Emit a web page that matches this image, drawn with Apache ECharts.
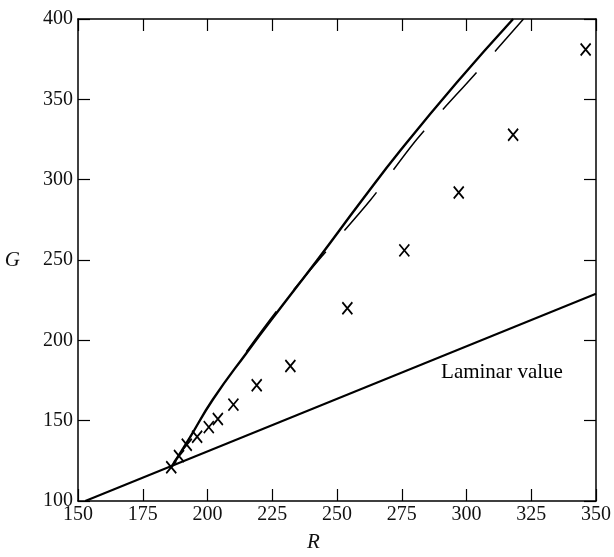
<!DOCTYPE html>
<html>
<head>
<meta charset="utf-8">
<script src="https://cdn.jsdelivr.net/npm/echarts@6/dist/echarts.min.js"></script>
<style>html,body{margin:0;padding:0;background:#fff;}#c{width:614px;height:557px;}</style>
</head>
<body>
<div id="c"></div>
<script>
// Measured points (crosses)
var pointR = [186, 189, 192, 196, 200.5, 204, 210, 219, 232, 254, 276, 297, 318, 346];
var pointG = [121, 128, 135, 140, 146, 151, 160, 172, 184, 220, 256, 292, 328, 381];
// Solid curve
var solidR = [186, 193, 202, 215, 230, 242.4, 259.7, 274.6, 296, 318];
var solidG = [121, 139, 163, 192, 224, 250, 287.3, 318.4, 360, 400];
// Dashed curve
var dashR = [215, 228, 244, 263, 281, 304, 322];
var dashG = [193, 221, 252, 287.5, 325.5, 367, 400];
// Laminar line
var lamR = [152.8, 350];
var lamG = [100, 229];
// Ticks
var xTicks = [150, 175, 200, 225, 250, 275, 300, 325, 350];
var yTicks = [100, 150, 200, 250, 300, 350, 400];
var laminarLabel = {R: 313.7, G: 179.7, text: 'Laminar value'};

function zip(a, b) { return a.map(function (v, i) { return [v, b[i]]; }); }

var serif = 'Liberation Serif';
var chart = echarts.init(document.getElementById('c'));
var axisLine = {show: true, lineStyle: {color: '#000', width: 1.5}};
var tick = {show: true, inside: true, length: 12, lineStyle: {color: '#000', width: 1.2}};
var lbl = {fontFamily: serif, fontSize: 20, color: '#111'};

chart.setOption({
  backgroundColor: '#fff',
  animation: false,
  title: {text: 'R', left: 302, top: 527, textStyle: {fontFamily: serif, fontStyle: 'italic', fontWeight: 'normal', fontSize: 21, color: '#111'}},
  grid: {left: 78, right: 17, top: 19, bottom: 56},
  xAxis: [{
    type: 'value', min: xTicks[0], max: xTicks[xTicks.length - 1], interval: 25, position: 'bottom',
    axisLine: axisLine, axisTick: tick, splitLine: {show: false},
    axisLabel: Object.assign({margin: 4}, lbl)
  }, {
    type: 'value', min: xTicks[0], max: xTicks[xTicks.length - 1], interval: 25, position: 'top',
    axisLine: axisLine, axisTick: tick, splitLine: {show: false}, axisLabel: {show: false}
  }],
  yAxis: [{
    type: 'value', min: yTicks[0], max: yTicks[yTicks.length - 1], interval: 50, position: 'left',
    axisLine: axisLine, axisTick: tick, splitLine: {show: false},
    axisLabel: Object.assign({margin: 5}, lbl),
    name: 'G', nameLocation: 'middle', nameGap: 58, nameRotate: 0,
    nameTextStyle: {fontFamily: serif, fontStyle: 'italic', fontSize: 21, color: '#111', padding: [10, 0, 0, 0]}
  }, {
    type: 'value', min: yTicks[0], max: yTicks[yTicks.length - 1], interval: 50, position: 'right',
    axisLine: axisLine, axisTick: tick, splitLine: {show: false}, axisLabel: {show: false}
  }],
  series: [{
    type: 'line', data: zip(lamR, lamG), symbol: 'none', clip: true,
    lineStyle: {color: '#000', width: 2}
  }, {
    type: 'line', data: zip(solidR, solidG), symbol: 'none', smooth: 0.5, clip: true,
    lineStyle: {color: '#000', width: 2.4}
  }, {
    type: 'line', data: zip(dashR, dashG), symbol: 'none', smooth: 0.3, clip: true,
    lineStyle: {color: '#000', width: 1.5, type: [50, 28]}
  }, {
    type: 'scatter', data: zip(pointR, pointG),
    symbol: 'path://M0,0L10,12M10,0L0,12', symbolSize: [10, 12],
    itemStyle: {color: 'transparent', borderColor: '#000', borderWidth: 1.8, opacity: 1}
  }, {
    type: 'scatter', data: [[laminarLabel.R, laminarLabel.G]], symbolSize: 1,
    itemStyle: {color: 'transparent', opacity: 1}, silent: true,
    label: {show: true, position: 'inside', formatter: laminarLabel.text, fontFamily: serif, fontSize: 21, color: '#000', opacity: 1}
  }]
});
</script>
</body>
</html>
